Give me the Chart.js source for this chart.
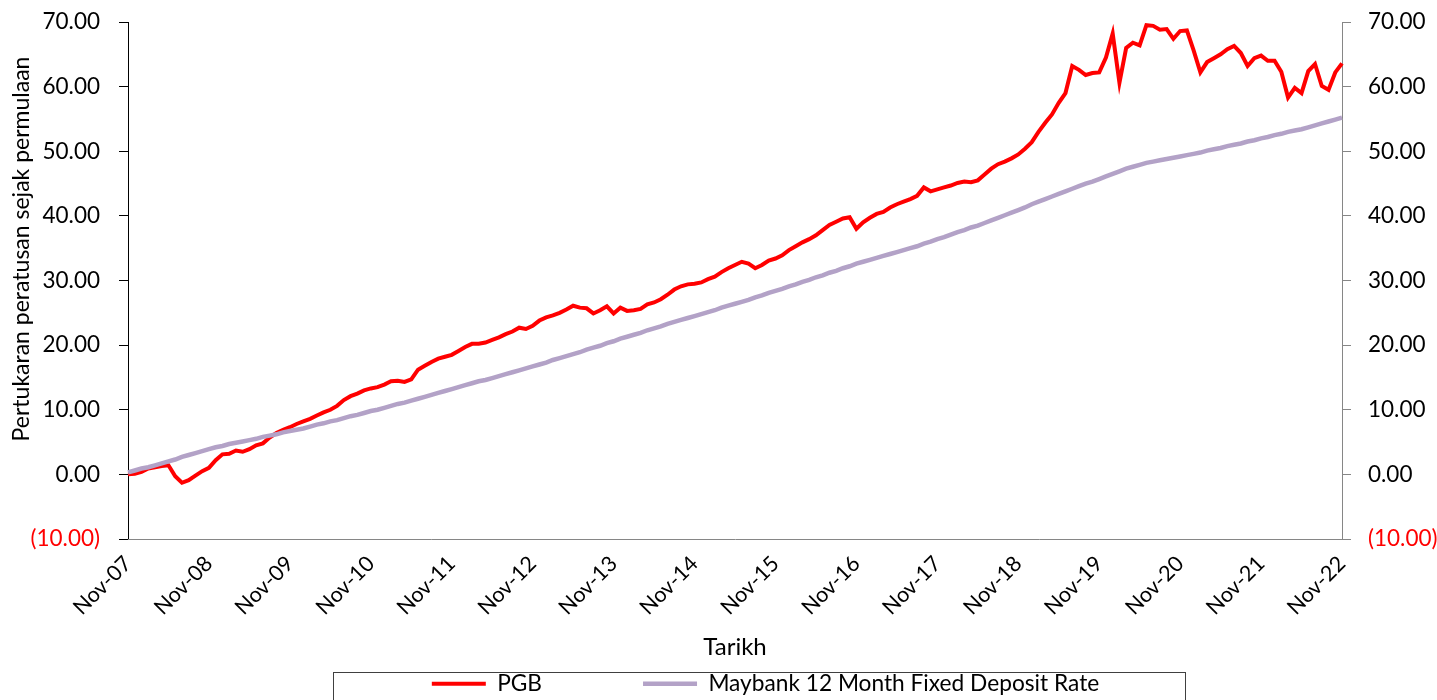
<!DOCTYPE html>
<html>
<head>
<meta charset="utf-8">
<script src="https://cdn.jsdelivr.net/npm/chart.js@4.4.1/dist/chart.umd.min.js"></script>
<style>
html,body{margin:0;padding:0;background:#ffffff;}
#wrap{width:1437px;height:700px;position:relative;overflow:hidden;}
</style>
</head>
<body>
<div id="wrap"><canvas id="c" width="1437" height="700"></canvas></div>
<script>
// ---------- data ----------
const monthNames = ['Jan','Feb','Mar','Apr','May','Jun','Jul','Aug','Sep','Oct','Nov','Dec'];
const categories = [];
for (let i = 0; i < 181; i++) {
  const m = (10 + i) % 12;
  const y = 2007 + Math.floor((10 + i) / 12);
  categories.push(monthNames[m] + '-' + String(y % 100).padStart(2, '0'));
}
const tickLabels = ['Nov-07','Nov-08','Nov-09','Nov-10','Nov-11','Nov-12','Nov-13','Nov-14',
                    'Nov-15','Nov-16','Nov-17','Nov-18','Nov-19','Nov-20','Nov-21','Nov-22'];
const seriesNames = ['PGB', 'Maybank 12 Month Fixed Deposit Rate'];

const pgbValues = [
  0.0, 0.1, 0.4, 0.9, 1.1, 1.3, 1.4, -0.3, -1.3, -0.9,
  -0.2, 0.5, 1.0, 2.2, 3.1, 3.2, 3.7, 3.5, 3.9, 4.5,
  4.8, 5.7, 6.4, 6.9, 7.3, 7.8, 8.2, 8.6, 9.1, 9.6,
  10.0, 10.6, 11.5, 12.1, 12.5, 13.0, 13.3, 13.5, 13.9, 14.4,
  14.5, 14.3, 14.7, 16.2, 16.8, 17.4, 17.9, 18.2, 18.5, 19.1,
  19.7, 20.2, 20.2, 20.4, 20.8, 21.2, 21.7, 22.1, 22.7, 22.5,
  23.0, 23.8, 24.3, 24.6, 25.0, 25.5, 26.1, 25.8, 25.7, 24.9,
  25.4, 26.0, 24.9, 25.8, 25.3, 25.4, 25.6, 26.3, 26.6, 27.1,
  27.8, 28.6, 29.1, 29.4, 29.5, 29.7, 30.2, 30.6, 31.3, 31.9,
  32.4, 32.9, 32.6, 31.9, 32.4, 33.1, 33.4, 33.9, 34.7, 35.3,
  35.9, 36.4, 37.0, 37.8, 38.6, 39.1, 39.6, 39.8, 38.0, 39.0,
  39.7, 40.3, 40.6, 41.3, 41.8, 42.2, 42.6, 43.1, 44.4, 43.8,
  44.1, 44.4, 44.7, 45.1, 45.3, 45.2, 45.5, 46.4, 47.3, 48.0,
  48.4, 48.9, 49.5, 50.4, 51.4, 53.0, 54.4, 55.7, 57.5, 59.0,
  63.2, 62.6, 61.8, 62.1, 62.2, 64.5, 68.2, 60.6, 66.0, 66.8,
  66.4, 69.5, 69.4, 68.8, 68.9, 67.4, 68.6, 68.7, 65.6, 62.2,
  63.8, 64.4, 65.0, 65.8, 66.3, 65.2, 63.2, 64.4, 64.8, 64.0,
  64.0, 62.3, 58.3, 59.8, 59.0, 62.4, 63.5, 60.1, 59.5, 62.2,
  63.6
];

const fdValues = [
  0.3, 0.6, 0.9, 1.1, 1.4, 1.7, 2.0, 2.3, 2.7, 3.0,
  3.3, 3.6, 3.9, 4.2, 4.4, 4.7, 4.9, 5.1, 5.3, 5.5,
  5.8, 6.0, 6.2, 6.5, 6.7, 6.9, 7.1, 7.4, 7.7, 7.9,
  8.2, 8.4, 8.7, 9.0, 9.2, 9.5, 9.8, 10.0, 10.3, 10.6,
  10.9, 11.1, 11.4, 11.7, 12.0, 12.3, 12.6, 12.9, 13.2, 13.5,
  13.8, 14.1, 14.4, 14.6, 14.9, 15.2, 15.5, 15.8, 16.1, 16.4,
  16.7, 17.0, 17.3, 17.7, 18.0, 18.3, 18.6, 18.9, 19.3, 19.6,
  19.9, 20.3, 20.6, 21.0, 21.3, 21.6, 21.9, 22.3, 22.6, 22.9,
  23.3, 23.6, 23.9, 24.2, 24.5, 24.8, 25.1, 25.4, 25.8, 26.1,
  26.4, 26.7, 27.0, 27.4, 27.7, 28.1, 28.4, 28.7, 29.1, 29.4,
  29.8, 30.1, 30.5, 30.8, 31.2, 31.5, 31.9, 32.2, 32.6, 32.9,
  33.2, 33.5, 33.8, 34.1, 34.4, 34.7, 35.0, 35.3, 35.7, 36.0,
  36.4, 36.7, 37.1, 37.5, 37.8, 38.2, 38.5, 38.9, 39.3, 39.7,
  40.1, 40.5, 40.9, 41.3, 41.8, 42.2, 42.6, 43.0, 43.4, 43.8,
  44.2, 44.6, 45.0, 45.3, 45.7, 46.1, 46.5, 46.9, 47.3, 47.6,
  47.9, 48.2, 48.4, 48.6, 48.8, 49.0, 49.2, 49.4, 49.6, 49.8,
  50.1, 50.3, 50.5, 50.8, 51.0, 51.2, 51.5, 51.7, 52.0, 52.2,
  52.5, 52.7, 53.0, 53.2, 53.4, 53.7, 54.0, 54.3, 54.6, 54.9,
  55.2
];

const yMin = -10, yMax = 70, yStep = 10;

// ---------- helpers ----------
const fmtTick = (v) => v < 0 ? '(' + Math.abs(v).toFixed(2) + ')' : v.toFixed(2);
const tickColor = (c) => (c.tick && c.tick.value < 0) ? '#FF0000' : '#000000';

Chart.defaults.font.family = 'Lato';
Chart.defaults.font.size = 22;
Chart.defaults.color = '#000000';

const layoutTweaks = {
  id: 'layoutTweaks',
  afterLayout(chart) {
    const lg = chart.legend;
    if (lg) {
      lg.left += 47; lg.right += 47;
      lg.top = 571.5; lg.bottom = 700;
    }
    const t = chart.scales.yTitle;
    if (t) { t.top = 22; t.bottom = 476; }
  },
  afterDraw(chart) {
    const ctx = chart.ctx;
    ctx.save();
    ctx.strokeStyle = '#404040';
    ctx.lineWidth = 1;
    ctx.strokeRect(333.5, 672.5, 852, 40);
    ctx.restore();
  }
};

const fixVertical = (w) => (s) => { s.width = w; s.paddingTop = 0; s.paddingBottom = 0; };

new Chart(document.getElementById('c'), {
  type: 'line',
  data: {
    labels: categories,
    datasets: [
      {
        label: seriesNames[0],
        data: pgbValues,
        borderColor: '#FF0000',
        backgroundColor: '#FF0000',
        borderWidth: 4,
        pointRadius: 0,
        tension: 0,
        order: 1,
        xAxisID: 'x',
        yAxisID: 'y'
      },
      {
        label: seriesNames[1],
        data: fdValues,
        borderColor: '#B3A2C7',
        backgroundColor: '#B3A2C7',
        borderWidth: 4.5,
        pointRadius: 0,
        tension: 0,
        order: 0,
        xAxisID: 'x',
        yAxisID: 'y'
      }
    ]
  },
  options: {
    responsive: false,
    animation: false,
    devicePixelRatio: 1,
    layout: { padding: { top: 22, left: 0, right: 0, bottom: 0 } },
    plugins: {
      legend: {
        position: 'bottom',
        maxHeight: 32,
        labels: {
          usePointStyle: true,
          pointStyle: 'line',
          pointStyleWidth: 54,
          padding: 101,
          color: '#000000',
          font: { size: 22.7 },
          sort: (a, b) => a.datasetIndex - b.datasetIndex
        }
      },
      tooltip: { enabled: false }
    },
    scales: {
      y: {
        type: 'linear',
        position: 'left',
        min: yMin, max: yMax,
        ticks: { stepSize: yStep, callback: fmtTick, color: tickColor, padding: 19, font: { size: 22.5 } },
        grid: { display: true, drawOnChartArea: false, drawTicks: true, tickLength: 9, color: '#000000' },
        border: { display: true, color: '#000000', width: 1 },
        afterFit: fixVertical(98)
      },
      yTitle: {
        type: 'linear',
        position: 'left',
        display: true,
        min: 0, max: 1,
        ticks: { display: false },
        grid: { display: false },
        border: { display: false },
        title: {
          display: true,
          text: 'Pertukaran peratusan sejak permulaan',
          color: '#000000',
          font: { size: 23 },
          padding: { top: 8, bottom: 0 }
        },
        afterFit: fixVertical(30)
      },
      x: {
        type: 'category',
        position: 'bottom',
        ticks: {
          autoSkip: false,
          minRotation: 45,
          maxRotation: 45,
          padding: 4,
          color: '#000000',
          font: { size: 21.5 },
          callback: function (v) {
            const l = this.getLabelForValue(v);
            return tickLabels.includes(l) ? l : '';
          }
        },
        grid: { display: false },
        border: { display: true, color: '#868686', width: 1 },
        title: {
          display: true,
          text: 'Tarikh',
          color: '#000000',
          font: { size: 24 },
          padding: { top: 0, bottom: 6 }
        },
        afterFit: (s) => { s.height = 129; }
      },
      y2: {
        type: 'linear',
        position: 'right',
        min: yMin, max: yMax,
        ticks: { stepSize: yStep, callback: fmtTick, color: tickColor, padding: 17, font: { size: 22.5 } },
        grid: { display: true, drawOnChartArea: false, drawTicks: true, tickLength: 9, color: '#868686' },
        border: { display: true, color: '#868686', width: 1 },
        afterFit: fixVertical(95)
      }
    }
  },
  plugins: [layoutTweaks]
});
</script>
</body>
</html>
